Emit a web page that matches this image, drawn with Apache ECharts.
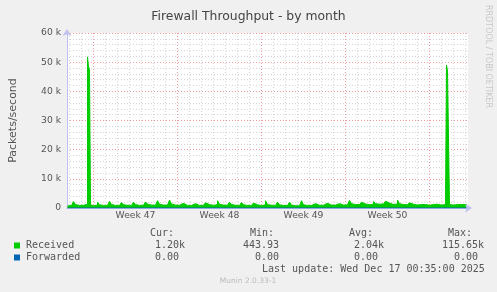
<!DOCTYPE html>
<html><head><meta charset="utf-8">
<script src="https://cdn.jsdelivr.net/npm/echarts@6/dist/echarts.min.js"></script>
<style>html,body{margin:0;padding:0;background:#f0f0f0}#c{width:497px;height:292px}</style>
</head><body><div id="c"></div>
<script>
// hours relative to Mon 17 Nov 2025 00:00 (start of Week 47)
var received = [
[-52,700],[-48,800],[-44,900],[-40,1100],[-36,2200],[-32,1200],[-28,900],
[-24,850],[-20,950],[-16,1200],[-12,1300],[-10,51800],[-8,48500],[-6,47500],[-4,1100],
[0,800],[4,850],[8,1000],[12,2000],[16,1100],[20,900],
[24,800],[28,900],[32,1100],[36,2300],[40,1200],[44,900],
[48,850],[52,900],[56,1000],[60,1900],[64,1100],[68,950],
[72,800],[76,900],[80,1000],[84,2000],[88,1200],[92,900],
[96,850],[100,950],[104,1100],[108,2100],[112,1300],[116,1000],
[120,900],[124,950],[128,1200],[132,2500],[136,1300],[140,1000],
[144,900],[148,1000],[152,1200],[156,2700],[160,1400],[164,1000],
[168,900],[172,950],[176,1000],[180,1600],[184,1100],[188,900],
[192,850],[196,900],[200,1000],[204,1500],[208,1100],[212,900],
[216,850],[220,950],[224,1100],[228,1800],[232,1200],[236,1000],
[240,900],[244,1000],[248,1200],[252,2500],[256,1300],[260,1000],
[264,900],[268,950],[272,1100],[276,2000],[280,1200],[284,950],
[288,850],[292,900],[296,1000],[300,1900],[304,1100],[308,900],
[312,800],[316,900],[320,1000],[324,1700],[328,1100],[332,900],
[336,850],[340,900],[344,1100],[348,2500],[352,1200],[356,950],
[360,850],[364,900],[368,1000],[372,2000],[376,1100],[380,900],
[384,800],[388,850],[392,950],[396,2000],[400,1000],[404,800],
[408,700],[412,750],[416,900],[420,2500],[424,1100],[428,900],
[432,850],[436,900],[440,1000],[444,1500],[448,1100],[452,950],
[456,900],[460,950],[464,1100],[468,1600],[472,1200],[476,1000],
[480,900],[484,1000],[488,1100],[492,1500],[496,1200],[500,1000],
[504,950],[508,1100],[512,1300],[516,2600],[520,1500],[524,1200],
[528,1100],[532,1200],[536,1300],[540,2000],[544,1400],[548,1200],
[552,1100],[556,1200],[560,1300],[564,2200],[568,1500],[572,1300],
[576,1200],[580,1400],[584,1600],[588,2300],[592,1700],[596,1400],
[600,1200],[604,1300],[608,1400],[612,2700],[616,1500],[620,1200],
[624,1000],[628,1100],[632,1200],[636,1800],[640,1300],[644,1100],
[648,1000],[652,1100],[656,1200],[660,1600],[664,1200],[668,1000],
[672,950],[676,1000],[680,1200],[684,1700],[688,1300],[692,1100],
[696,1000],[700,1100],[704,1200],[706,1300],[708,49000],[710,47000],[712,46500],[714,1200],
[716,1100],[720,1000],[724,1100],[728,1200],[732,1300],[736,1200],[740,1100],[744,1150],[746,1200]
];
var forwarded = [[-52,0],[746,0]];
var weekLabels = ['Week 47','Week 48','Week 49','Week 50'];
var weekCenters = [84,252,420,588];
var legendRows = [
  {name:'Received', color:'#00cc00', cur:'1.20k', min:'443.93', avg:'2.04k', max:'115.65k'},
  {name:'Forwarded', color:'#0066b3', cur:'0.00', min:'0.00', avg:'0.00', max:'0.00'}
];
var lastUpdate = 'Last update: Wed Dec 17 00:35:00 2025';

// vertical grid: every day, weeks (multiples of 168 h) highlighted
var vGrid = [];
for (var h = -48; h <= 744; h += 24) vGrid.push([h, h % 168 === 0 ? 1 : 0]);

var mono = 'DejaVu Sans Mono';
var txtColor = '#555';
var majorGrid = '#f29a9a';
var minorGrid = '#d6d6d6';
var graphics = [];
function t(x, y, s, opt) {
  var o = {type:'text', x:x, y:y, silent:true, style:{text:s, fill:(opt&&opt.fill)||txtColor, font:(opt&&opt.font)||('10px "'+mono+'"'), textVerticalAlign:'middle', textAlign:(opt&&opt.align)||'left'}};
  if (opt && opt.rotation) o.rotation = opt.rotation;
  graphics.push(o);
}
t(150,233,'Cur:'); t(250,233,'Min:'); t(349,233,'Avg:'); t(448,233,'Max:');
var rowY = [245.5, 257.5];
legendRows.forEach(function(r, i){
  var y = rowY[i];
  graphics.push({type:'rect', shape:{x:14, y:y-3, width:6, height:6}, style:{fill:r.color}, silent:true});
  t(26, y, r.name);
  function val(endX, s){ var hasK = /k$/.test(s); var num = hasK ? s.slice(0,-1) : s; t(endX - num.length*6.02, y, s); }
  val(179, r.cur); val(279, r.min); val(378, r.avg); val(478, r.max);
});
t(262, 269, lastUpdate);
t(248, 281, 'Munin 2.0.33-1', {fill:'#bbb', font:'7.5px "DejaVu Sans"', align:'center'});
t(488, 5, 'RRDTOOL / TOBI OETIKER', {fill:'#c8c8c8', font:'8px "DejaVu Sans"', rotation:-Math.PI/2});

var chart = echarts.init(document.getElementById('c'), null, {renderer:'canvas'});
chart.setOption({
  animation:false,
  backgroundColor:'#f0f0f0',
  title:{text:'Firewall Throughput - by month', left:'center', top:6, textStyle:{fontFamily:'DejaVu Sans', fontSize:12.4, fontWeight:'normal', color:'#444'}},
  grid:{left:67, right:29, top:33, bottom:84, show:true, backgroundColor:'#fff', borderWidth:0},
  xAxis:{type:'value', min:-53, max:749,
    axisLine:{show:true, onZero:false, lineStyle:{color:'#c0c0f0', width:1}, symbol:['none','arrow'], symbolSize:[7,7], symbolOffset:[0,4]},
    axisTick:{show:false},
    splitLine:{show:false},
    axisLabel:{customValues:weekCenters, formatter:function(v){ return weekLabels[weekCenters.indexOf(v)] || ''; }, fontFamily:'DejaVu Sans', fontSize:9.2, color:txtColor, margin:3}
  },
  yAxis:{type:'value', min:0, max:60000, interval:10000,
    name:'Packets/second', nameLocation:'middle', nameGap:48, nameRotate:90,
    nameTextStyle:{fontFamily:'DejaVu Sans', fontSize:11, color:txtColor},
    axisLine:{show:true, onZero:false, lineStyle:{color:'#c0c0f0', width:1}, symbol:['none','arrow'], symbolSize:[7,7], symbolOffset:[0,4]},
    axisTick:{show:false},
    minorTick:{show:false},
    axisLabel:{formatter:function(v){ return v===0 ? '0' : (v/1000)+' k'; }, fontFamily:'DejaVu Sans', fontSize:9.2, color:txtColor, margin:6},
    splitLine:{show:true, lineStyle:{color:majorGrid, type:[1,2], width:1}},
    minorSplitLine:{show:true, lineStyle:{color:minorGrid, type:[1,2], width:1}},
    splitNumber:6
  },
  graphic: graphics,
  series:[
    {type:'custom', data:vGrid, z:1, silent:true, clip:true,
      renderItem:function(params, api){
        var p0 = api.coord([api.value(0), 0]);
        var p1 = api.coord([api.value(0), 60000]);
        var x = Math.floor(p0[0]) + 0.5;
        return {type:'line', shape:{x1:x, y1:p0[1], x2:x, y2:p1[1]},
          style:{stroke: api.value(1) ? majorGrid : minorGrid, lineWidth:1, lineDash:[1,2], fill:null}};
      }},
    {name:'Received', type:'line', data:received, step:'start', symbol:'none', z:3,
      lineStyle:{color:'#00cc00', width:1}, areaStyle:{color:'#00cc00', opacity:1}},
    {name:'Forwarded', type:'line', data:forwarded, symbol:'none', z:4,
      lineStyle:{color:'#0066b3', width:1}}
  ]
});
</script></body></html>
